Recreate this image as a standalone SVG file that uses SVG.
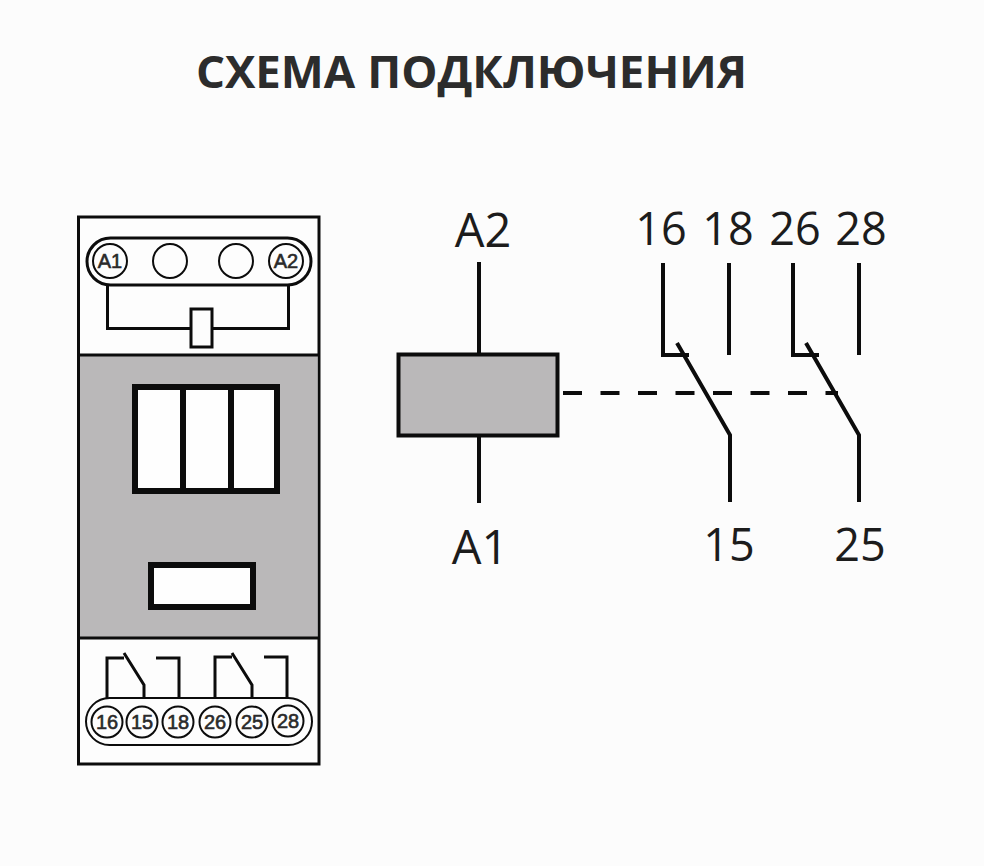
<svg xmlns="http://www.w3.org/2000/svg" width="984" height="866" viewBox="0 0 984 866">
<style>
.l{fill:none;stroke:#0c0c0c;stroke-width:3;stroke-linecap:butt;stroke-linejoin:miter}
.t{fill:none;stroke:#0c0c0c;stroke-width:2}
.c{fill:#fdfdfd;stroke:#0c0c0c;stroke-width:2}
.m{fill:none;stroke:#0c0c0c;stroke-width:4}
.w{fill:#fefefe;stroke:#0c0c0c;stroke-width:6}
.big{font-family:"Open Sans","Noto Sans",sans-serif;font-size:45px;fill:#1c1c1c;text-anchor:middle}
.cap{font-size:47px}
.sm{font-family:"Liberation Sans",Arial,sans-serif;font-size:20px;fill:#2a2a2a;stroke:#2a2a2a;stroke-width:0.6;text-anchor:middle}
</style>
<rect width="984" height="866" fill="#fcfcfc"/>
<text id="title" x="471.500" y="88" font-family="Open Sans,Noto Sans,sans-serif" font-size="45.600" font-weight="700" fill="#2c2c2c" text-anchor="middle">СХЕМА ПОДКЛЮЧЕНИЯ</text>
<g id="device">
<rect x="78.500" y="217" width="240.500" height="547" fill="#fdfdfd" stroke="#0c0c0c" stroke-width="3"/>
<rect x="80" y="355" width="237.500" height="283" fill="#bab8b9"/>
<path class="l" d="M78.500 355H319M78.500 638H319"/>
<g id="top-terminals">
<rect class="l" x="87" y="238" width="224" height="47" rx="23.500"/>
<path class="l" d="M107.500 285V328.500H191M212 328.500H288.500V285"/>
<rect class="l" x="191" y="309" width="21" height="38"/>
<circle class="c" cx="110" cy="261" r="17"/><text class="sm" x="110" y="268">A1</text>
<circle class="c" cx="170" cy="261" r="17"/>
<circle class="c" cx="236" cy="261" r="17"/>
<circle class="c" cx="286" cy="261" r="17"/><text class="sm" x="286" y="268">A2</text>
</g>
<g id="window">
<rect class="w" x="135" y="387" width="142" height="104"/>
<path d="M183 387V491M231 387V491" fill="none" stroke="#0c0c0c" stroke-width="6"/>
</g>
<rect id="slot" class="w" x="151" y="565" width="102" height="42"/>
<g id="bottom-terminals">
<rect class="t" x="86" y="698" width="226" height="47" rx="23.500"/>
<path class="l" d="M107 698V658H124M124 653L144 685V698M156 658H179V698M215 698V657H232M232 653L252 685V698M264 657H287V698"/>
<circle class="c" cx="107" cy="722" r="15.500"/><text class="sm" x="107" y="729">16</text>
<circle class="c" cx="142" cy="722" r="15.500"/><text class="sm" x="142" y="729">15</text>
<circle class="c" cx="178" cy="722" r="15.500"/><text class="sm" x="178" y="729">18</text>
<circle class="c" cx="215" cy="722" r="15.500"/><text class="sm" x="215" y="729">26</text>
<circle class="c" cx="252" cy="722" r="15.500"/><text class="sm" x="252" y="729">25</text>
<circle class="c" cx="288" cy="721" r="15.500"/><text class="sm" x="288" y="728">28</text>
</g>
</g>
<g id="coil">
<rect x="398.500" y="354.500" width="159" height="81" fill="#bab8b9" stroke="#0c0c0c" stroke-width="4"/>
<text class="big cap" x="483" y="247">A2</text>
<text class="big cap" x="480" y="564">A1</text>
</g>
<g id="labels">
<text class="big" x="661" y="245">16</text>
<text class="big" x="728" y="245">18</text>
<text class="big" x="795" y="245">26</text>
<text class="big" x="861" y="245">28</text>
<text class="big" x="729" y="561">15</text>
<text class="big" x="860" y="561">25</text>
</g>
<g id="connectors">
<path class="m" d="M479 262V354M479 435V503"/>
<path class="m" stroke-dasharray="19 18.500" d="M563 393H838"/>
<path class="m" d="M663 263V355H689M677 343L730 435V502M729 263V355"/>
<path class="m" d="M793 263V355H819M806 343L859 435V502M859 263V355"/>
</g>
</svg>
